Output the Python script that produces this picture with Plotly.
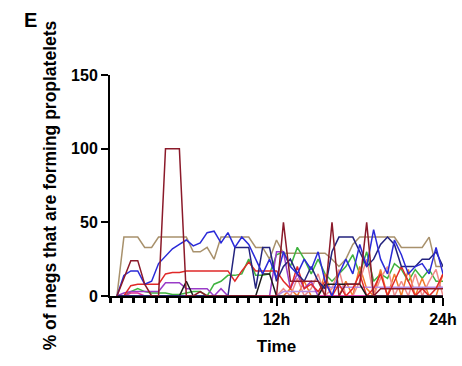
import plotly.graph_objects as go

# time in hours (sampling every 0.5 h)
time_h = [0.5 * (i + 1) for i in range(48)]

tan = [0, 40, 40, 40, 33, 33, 40, 40, 40, 40, 40, 30, 30, 33, 25, 40, 40, 40, 40, 40, 33, 33, 25, 38,
       29, 29, 29, 29, 29, 29, 29, 25, 20, 25, 35, 40, 40, 40, 40, 40, 40, 33, 33, 33, 33, 40, 20, 20]
maroon = [0, 12, 24, 24, 8, 0, 0, 100, 100, 100, 0, 0, 3, 0, 0, 0, 0, 0, 0, 0, 0, 0, 0, 0,
          50, 10, 10, 10, 10, 10, 0, 50, 0, 8, 8, 8, 50, 0, 5, 5, 5, 5, 5, 5, 5, 5, 5, 5]
blue = [0, 14, 17, 17, 8, 10, 22, 27, 32, 35, 38, 34, 36, 43, 44, 36, 43, 33, 40, 35, 25, 15, 25, 12,
        30, 20, 15, 25, 18, 30, 10, 0, 15, 25, 15, 35, 20, 45, 25, 15, 38, 28, 15, 20, 22, 15, 33, 15]
navy = [0, 0, 0, 0, 0, 0, 0, 0, 0, 0, 0, 0, 0, 0, 0, 0, 0, 33, 33, 33, 5, 33, 33, 10,
        20, 25, 15, 10, 20, 10, 5, 30, 40, 40, 40, 30, 20, 25, 35, 40, 35, 20, 20, 20, 25, 25, 30, 20]
red = [0, 0, 7, 8, 8, 8, 8, 15, 16, 16, 17, 17, 17, 17, 17, 17, 17, 10, 17, 23, 17, 17, 17, 17,
       10, 5, 20, 5, 8, 3, 10, 0, 8, 0, 5, 15, 0, 5, 15, 0, 10, 20, 10, 0, 5, 0, 5, 15]
orange = [0, 0, 0, 0, 0, 0, 0, 0, 0, 0, 0, 0, 0, 0, 0, 0, 0, 0, 0, 0, 0, 0, 0, 0,
          0, 5, 0, 10, 0, 0, 15, 0, 0, 10, 0, 20, 5, 0, 18, 0, 15, 0, 18, 0, 12, 0, 0, 15]
salmon = [0, 0, 0, 0, 0, 0, 0, 0, 0, 0, 0, 0, 0, 0, 0, 0, 0, 0, 0, 0, 0, 0, 0, 0,
          5, 0, 12, 0, 5, 15, 0, 5, 18, 0, 0, 10, 25, 0, 12, 20, 0, 10, 0, 15, 0, 10, 18, 0]
green = [0, 0, 3, 5, 3, 2, 2, 2, 1, 1, 2, 3, 3, 0, 8, 10, 14, 14, 15, 25, 14, 14, 15, 28,
         30, 20, 33, 25, 15, 25, 15, 10, 15, 20, 28, 15, 30, 10, 15, 12, 22, 18, 10, 18, 12, 18, 10, 10]
purple = [0, 2, 3, 3, 3, 3, 3, 9, 9, 9, 5, 5, 5, 5, 0, 5, 0, 0, 0, 0, 0, 0, 0, 30,
          30, 5, 15, 5, 10, 0, 0, 0, 0, 0, 0, 0, 0, 0, 0, 0, 0, 0, 0, 0, 0, 0, 0, 0]
lavender = [0, 0, 0, 0, 0, 0, 0, 0, 0, 0, 0, 0, 0, 0, 0, 0, 0, 0, 0, 0, 0, 0, 0, 0,
            3, 3, 3, 3, 3, 3, 6, 6, 6, 6, 6, 6, 6, 6, 6, 6, 6, 6, 6, 6, 6, 6, 6, 6]
black = [0, 0, 0, 0, 0, 0, 0, 0, 0, 0, 10, 0, 0, 0, 0, 0, 0, 0, 0, 0, 0, 15, 15, 0,
         0, 0, 0, 0, 0, 0, 8, 8, 8, 8, 8, 8, 0, 0, 0, 0, 0, 0, 0, 0, 0, 0, 0, 0]
magenta = [0, 0, 2, 2, 0, 0, 0, 0, 0, 0, 0, 0, 0, 0, 0, 0, 0, 0, 0, 0, 0, 0, 0, 0,
           0, 0, 0, 0, 0, 0, 0, 0, 0, 0, 0, 0, 0, 0, 0, 0, 0, 0, 0, 0, 0, 0, 0, 0]

series = [
    ("tan", tan, "#a8916c"),
    ("green", green, "#3fb33f"),
    ("orange", orange, "#f07a2a"),
    ("salmon", salmon, "#f08a8a"),
    ("lavender", lavender, "#b48ce0"),
    ("purple", purple, "#9a3cc8"),
    ("magenta", magenta, "#e0309a"),
    ("red", red, "#e02828"),
    ("black", black, "#1a1a1a"),
    ("navy", navy, "#23237e"),
    ("blue", blue, "#2a2ad8"),
    ("maroon", maroon, "#8b1a2a"),
]

fig = go.Figure()
for name, vals, col in series:
    fig.add_trace(go.Scatter(x=time_h, y=vals, mode="lines", name=name,
                             line=dict(color=col, width=1.5)))

font_family = "Liberation Sans, Arial, sans-serif"

fig.update_layout(
    width=462, height=366,
    margin=dict(l=110, r=19, t=75, b=70),
    paper_bgcolor="white", plot_bgcolor="white",
    showlegend=False,
    font=dict(family=font_family, color="black"),
    xaxis=dict(
        range=[0, 24], tickvals=[12, 24], ticktext=["12h", "24h"],
        ticks="outside", ticklen=8, tickwidth=2, tickcolor="black",
        showline=True, linecolor="black", linewidth=2,
        showgrid=False, zeroline=False, layer="below traces", automargin=False,
        tickfont=dict(size=16, weight="bold"),
        minor=dict(dtick=5/6, tick0=0, ticks="outside", ticklen=5, tickwidth=2.5, tickcolor="black"),
        title=dict(text="Time", font=dict(size=17, weight="bold"), standoff=13),
    ),
    yaxis=dict(
        range=[0, 150], tickvals=[0, 50, 100, 150],
        ticks="outside", ticklen=7, tickwidth=2, tickcolor="black",
        showline=True, linecolor="black", linewidth=2,
        showgrid=False, zeroline=False, automargin=False,
        tickfont=dict(size=16, weight="bold"),
        title=dict(text="% of megs that are forming proplatelets",
                   font=dict(size=17.5, weight="bold"), standoff=10),
    ),
    annotations=[dict(text="E", xref="paper", yref="paper", x=-0.238, y=1.25,
                      xanchor="center", yanchor="middle", showarrow=False,
                      font=dict(size=20, weight="bold", family=font_family))],
)

fig.write_html("out.html")
